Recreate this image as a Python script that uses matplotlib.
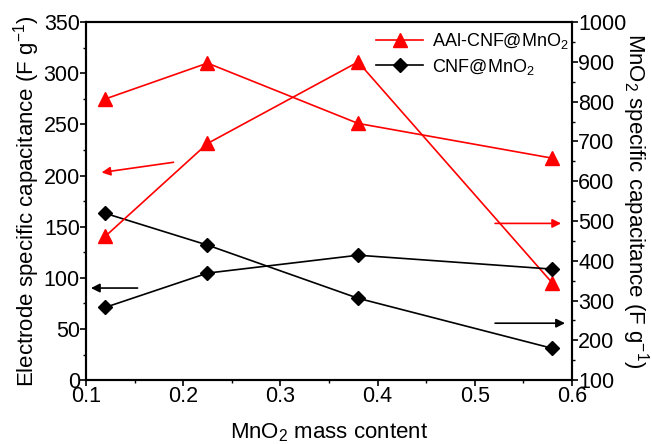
import matplotlib.pyplot as plt
from matplotlib.ticker import MultipleLocator

plt.rcParams['font.family'] = ['Liberation Sans', 'DejaVu Sans']
plt.rcParams['mathtext.fontset'] = 'custom'
plt.rcParams['mathtext.rm'] = 'Liberation Sans'
plt.rcParams['mathtext.it'] = 'Liberation Sans'

# MnO2 mass content
mass = [0.12, 0.225, 0.38, 0.58]

# electrode specific capacitance (left axis, F/g)
aal_electrode = [275, 310, 251, 217]
cnf_electrode = [163, 132, 80, 31]

# MnO2 specific capacitance (right axis, F/g)
aal_mno2 = [462, 695, 900, 344]
cnf_mno2 = [283, 369, 414, 379]

fig = plt.figure(figsize=(6.52, 4.44), dpi=100)
ax = fig.add_axes([0.132, 0.144, 0.745, 0.806])
ax2 = ax.twinx()

ax.plot(mass, aal_electrode, color='#ff0000', lw=1.2, marker='^', ms=10,
        label='AAl-CNF@MnO$_2$')
ax.plot(mass, cnf_electrode, color='black', lw=1.2, marker='D', ms=7.5,
        label='CNF@MnO$_2$')
ax2.plot(mass, aal_mno2, color='#ff0000', lw=1.2, marker='^', ms=10)
ax2.plot(mass, cnf_mno2, color='black', lw=1.2, marker='D', ms=7.5)

# arrows pointing at the matching axis
arr = dict(arrowstyle='-|>', lw=1.2, mutation_scale=13, shrinkA=0, shrinkB=0)
ax.annotate('', xy=(0.116, 203), xytext=(0.19, 213),
            arrowprops=dict(arr, color='#ff0000'))
ax.annotate('', xy=(0.105, 90), xytext=(0.153, 90),
            arrowprops=dict(arr, color='black'))
ax2.annotate('', xy=(0.589, 494), xytext=(0.521, 494),
             arrowprops=dict(arr, color='#ff0000'))
ax2.annotate('', xy=(0.593, 243), xytext=(0.521, 243),
             arrowprops=dict(arr, color='black'))

ax.set_xlim(0.1, 0.6)
ax.set_ylim(0, 350)
ax2.set_ylim(100, 1000)

ax.xaxis.set_major_locator(MultipleLocator(0.1))
ax.xaxis.set_minor_locator(MultipleLocator(0.05))
ax.yaxis.set_major_locator(MultipleLocator(50))
ax.yaxis.set_minor_locator(MultipleLocator(25))
ax2.yaxis.set_major_locator(MultipleLocator(100))
ax2.yaxis.set_minor_locator(MultipleLocator(50))

for a in (ax, ax2):
    a.tick_params(which='major', direction='out', length=4, width=1.2,
                  labelsize=15.5, pad=0.5)
    a.tick_params(which='minor', direction='out', length=2.5, width=1.0)
    for s in a.spines.values():
        s.set_linewidth(1.5)

ax.set_xlabel('MnO$_2$ mass content', fontsize=16, labelpad=10)
ax.set_ylabel('Electrode specific capacitance (F g$^{-1}$)', fontsize=16,
              labelpad=1)
ax2.set_ylabel('MnO$_2$ specific capacitance (F g$^{-1}$)', fontsize=16,
               rotation=270, labelpad=18)

ax.legend(loc='upper right', bbox_to_anchor=(1.02, 1.01), frameon=False,
          fontsize=13, handlelength=2.6, borderaxespad=0.3, labelspacing=0.3,
          handletextpad=0.5)

fig.savefig('out.png', dpi=100)
